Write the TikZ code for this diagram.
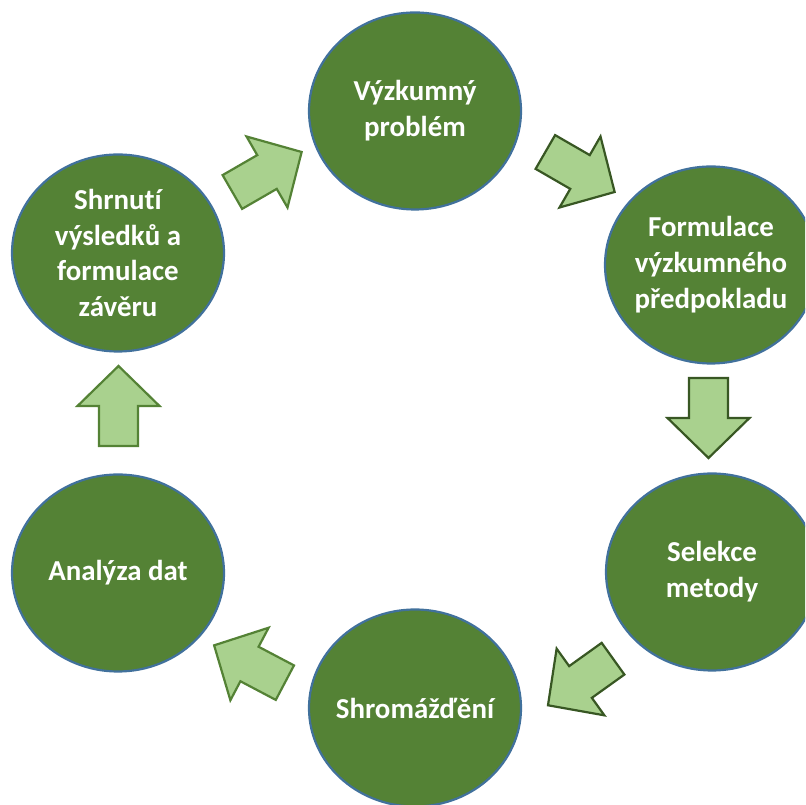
\documentclass[tikz,border=0pt]{standalone}
\usepackage{fontspec}
\setmainfont{Carlito}[Ligatures=NoCommon]
\usetikzlibrary{shapes.geometric}
\definecolor{circfill}{HTML}{548235}
\definecolor{circline}{HTML}{41719C}
\definecolor{arrfill}{HTML}{A9D18E}
\definecolor{arrlineA}{HTML}{548235}
\definecolor{arrlineB}{HTML}{385723}
\tikzset{
  stage/.style={ellipse, draw=circline, line width=2.2bp, fill=circfill,
    minimum width=212bp, minimum height=197bp, inner sep=0pt},
  stagetext/.style={text=white, inner sep=0pt,
    font=\fontsize{29}{36}\selectfont\bfseries, align=center},
  blk/.style={fill=arrfill, line width=2.2bp, line join=miter},
  blockarrow/.pic={\path[pic actions] (-40,-19.5) -- (0,-19.5) -- (0,-41) -- (40,0)
     -- (0,41) -- (0,19.5) -- (-40,19.5) -- cycle;}
}
\begin{document}
\begin{tikzpicture}[x=1bp,y=1bp]
\useasboundingbox (0,0) rectangle (805,805);
\fill[white] (0,0) rectangle (805,805);
\clip (0,0) rectangle (805,805);
\node[stage] (c1) at (415,694) {};
\node[stage] (c2) at (711,540) {};
\node[stage] (c3) at (712,233) {};
\node[stage] (c4) at (415,97) {};
\node[stage] (c5) at (118,232) {};
\node[stage] (c6) at (118,552) {};
\node[stagetext] (t1) at (c1) {Výzkumný\\problém};
\node[stagetext] (t2) at (c2) {Formulace\\výzkumného\\předpokladu};
\node[stagetext] (t3) at (c3) {Selekce\\metody};
\node[stagetext] (t4) at (c4) {Shromážďění};
\node[stagetext] (t5) at (c5) {Analýza dat};
\node[stagetext] (t6) at (c6) {Shrnutí\\výsledků a\\formulace\\závěru};
\pic[blk, draw=arrlineA, rotate=30] (a1) at (267,633) {blockarrow};
\pic[blk, draw=arrlineB, rotate=-30] (a2) at (580,633) {blockarrow};
\pic[blk, draw=arrlineB, rotate=-90] (a3) at (708.5,387) {blockarrow};
\pic[blk, draw=arrlineB, rotate=215.6] (a4) at (580.5,123) {blockarrow};
\pic[blk, draw=arrlineA, rotate=152.2] (a5) at (249.5,141) {blockarrow};
\pic[blk, draw=arrlineA, rotate=90] (a6) at (118.5,399) {blockarrow};
\end{tikzpicture}
\end{document}
